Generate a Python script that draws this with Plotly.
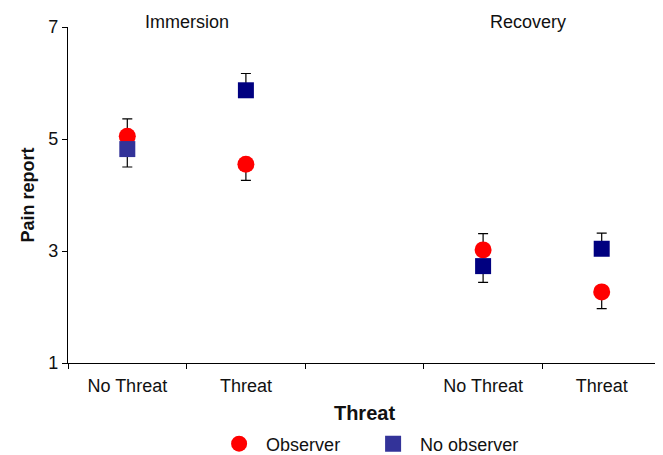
import plotly.graph_objects as go

# ---- data ----
x_pos = [0.5, 1.5, 3.5, 4.5]
tick_labels = ["No Threat", "Threat", "No Threat", "Threat"]
boundaries = [0, 1, 2, 3, 4, 5]
phases = ["Immersion", "Recovery"]
phase_pos = [1.0, 3.88]

observer_mean = [5.05, 4.55, 3.02, 2.27]
observer_err_plus = [0.31, 0.0, 0.29, 0.0]
observer_err_minus = [0.0, 0.29, 0.0, 0.30]

noobs_mean = [4.82, 5.87, 2.73, 3.04]
noobs_err_plus = [0.0, 0.30, 0.0, 0.28]
noobs_err_minus = [0.32, 0.0, 0.29, 0.0]
noobs_colors = ["#333399", "#000080", "#000080", "#000080"]

FONT = "Liberation Sans, Arial, sans-serif"

fig = go.Figure()
fig.add_trace(go.Scatter(
    x=x_pos, y=observer_mean, mode="markers", name="Observer",
    marker=dict(symbol="circle", size=17, color="#FF0000", line=dict(width=0)),
    error_y=dict(type="data", symmetric=False, array=observer_err_plus,
                 arrayminus=observer_err_minus, color="black", thickness=1.2, width=5),
))
fig.add_trace(go.Scatter(
    x=x_pos, y=noobs_mean, mode="markers", name="No observer",
    marker=dict(symbol="square", size=16, color=noobs_colors, line=dict(width=0)),
    error_y=dict(type="data", symmetric=False, array=noobs_err_plus,
                 arrayminus=noobs_err_minus, color="black", thickness=1.2, width=5),
))
# invisible trace on overlay axis for boundary tick marks
fig.add_trace(go.Scatter(x=[boundaries[0]], y=[None], xaxis="x2", showlegend=False,
                         hoverinfo="skip"))

fig.update_layout(
    width=655, height=447,
    margin=dict(l=60, r=2, t=19, b=92, autoexpand=False),
    paper_bgcolor="white", plot_bgcolor="white",
    font=dict(family=FONT, size=18, color="#111111"),
    xaxis=dict(range=[0, 5], tickvals=x_pos, ticktext=tick_labels, ticks="",
               showline=True, linecolor="black", linewidth=1.2, showgrid=False,
               zeroline=False, tickfont=dict(size=18), automargin=False,
               ticklabelstandoff=6,
               title=dict(text="<b>Threat</b>", font=dict(size=20), standoff=11)),
    xaxis2=dict(range=[0, 5], overlaying="x", side="bottom", tickvals=boundaries,
                ticks="outside", ticklen=5, tickcolor="black", tickwidth=1.2,
                showticklabels=False, showgrid=False, zeroline=False, showline=False,
                automargin=False),
    yaxis=dict(range=[1, 7], tickvals=[1, 3, 5, 7], ticks="outside", ticklen=5,
               tickcolor="black", tickwidth=1.2, showline=True, linecolor="black",
               linewidth=1.2, showgrid=False, zeroline=False, tickfont=dict(size=18),
               automargin=False,
               title=dict(text="<b>Pain report</b>", font=dict(size=18), standoff=8)),
    legend=dict(orientation="h", x=0.243, xanchor="left", y=-0.186, yanchor="top",
                font=dict(size=18), itemwidth=44, entrywidth=95,
                entrywidthmode="pixels"),
    annotations=[
        dict(text=phases[i], x=phase_pos[i], y=1.015, xref="x", yref="paper",
             yanchor="middle", showarrow=False, font=dict(size=18))
        for i in range(len(phases))
    ],
)

fig.write_html("out.html")
